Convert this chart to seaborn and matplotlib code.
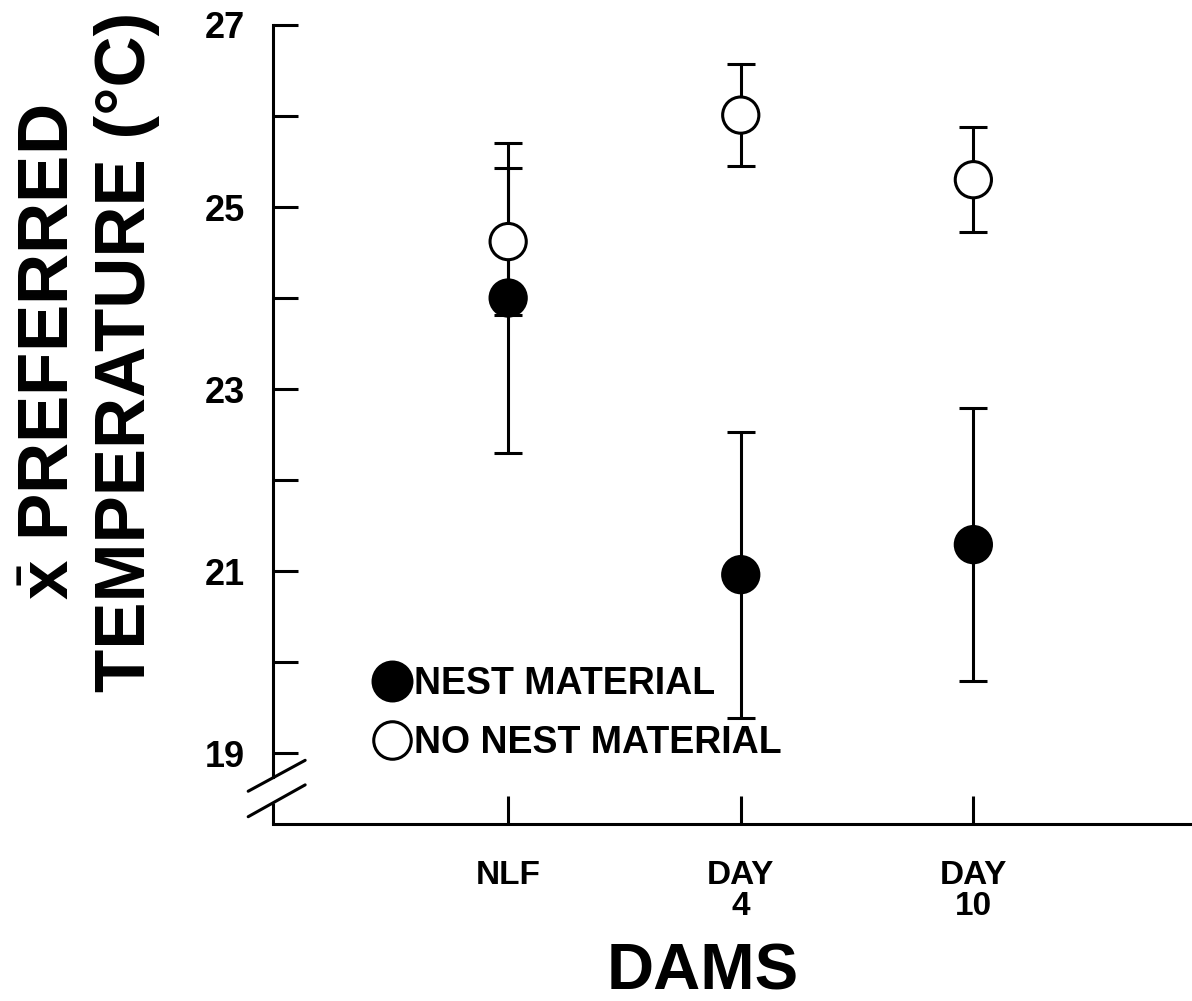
import matplotlib
matplotlib.use("Agg")
import matplotlib.pyplot as plt
import seaborn as sns
import pandas as pd
from matplotlib.lines import Line2D

# Mean preferred temperature (°C) and error half-widths per group of dams
groups = ["NLF", "DAY\n4", "DAY\n10"]
conditions = ["NEST MATERIAL", "NO NEST MATERIAL"]
nest_mean = [24.00, 20.96, 21.29]
nest_err = [1.70, 1.57, 1.50]
no_nest_mean = [24.62, 26.01, 25.30]
no_nest_err = [0.81, 0.56, 0.58]
y_major = [19, 21, 23, 25, 27]
y_minor = [20, 22, 24, 26]

sns.set_theme(style="ticks")
plt.rcParams["font.family"] = ["Liberation Sans", "DejaVu Sans"]
plt.rcParams["mathtext.fontset"] = "custom"
plt.rcParams["mathtext.bf"] = "Liberation Sans:bold"
plt.rcParams["mathtext.rm"] = "Liberation Sans"
plt.rcParams["mathtext.it"] = "Liberation Sans:italic"
for key in ("text.color", "axes.labelcolor", "xtick.color", "ytick.color",
            "xtick.labelcolor", "ytick.labelcolor", "axes.edgecolor"):
    plt.rcParams[key] = "black"

df = pd.DataFrame({
    "group": groups * 2,
    "condition": [conditions[0]] * len(groups) + [conditions[1]] * len(groups),
    "mean": nest_mean + no_nest_mean,
    "err": nest_err + no_nest_err,
})

W, H = 1192, 1001
fig = plt.figure(figsize=(W / 100, H / 100), dpi=100)
fig.patch.set_facecolor("white")
ax = fig.add_axes([273 / W, 1 - 824 / H, 1 - 273 / W, (824 - 25) / H])
ax.set_facecolor("white")

lw = 2.2
# error bars first so the markers sit on top of them
ax.errorbar(df["group"], df["mean"], yerr=df["err"], fmt="none",
            ecolor="black", elinewidth=lw, capsize=10, capthick=lw, zorder=2)

sns.scatterplot(data=df, x="group", y="mean", hue="condition",
                palette={conditions[0]: "black", conditions[1]: "white"},
                edgecolor="black", linewidth=lw, s=680, legend=False,
                zorder=3, ax=ax)

ax.set_xlim(-1.011, 2.94)
ax.set_ylim(18.22, 27)
ax.set_yticks(y_major)
ax.set_yticks(y_minor, minor=True)
ax.set_yticklabels([str(v) for v in y_major])
ax.set_xlabel("")
ax.set_ylabel("")

ax.tick_params(axis="y", which="both", direction="in", length=18, width=lw,
               pad=20, labelsize=26, colors="black")
ax.tick_params(axis="x", which="major", direction="in", length=20, width=lw,
               pad=26, labelsize=24, colors="black")
ax.tick_params(axis="x", which="minor", bottom=False)
for lab in ax.get_xticklabels() + ax.get_yticklabels():
    lab.set_fontweight("bold")
    lab.set_color("black")
for lab in ax.get_xticklabels():
    lab.set_linespacing(1.0)

for side in ("top", "right"):
    ax.spines[side].set_visible(False)
for side in ("left", "bottom"):
    ax.spines[side].set_linewidth(lw)
    ax.spines[side].set_color("black")
ax.spines["left"].set_bounds(18.74, 27)

# broken y axis: short stub above the x axis and two slashes
ytr = ax.get_yaxis_transform()
ax.plot([0, 0], [18.22, 18.45], transform=ytr, color="black", lw=lw,
        clip_on=False, solid_capstyle="butt")
ax.plot([-0.027, 0.035], [18.58, 18.92], transform=ytr, color="black",
        lw=lw, clip_on=False)
ax.plot([-0.027, 0.035], [18.30, 18.65], transform=ytr, color="black",
        lw=lw, clip_on=False)

handles = [
    Line2D([], [], marker="o", linestyle="none", markersize=28,
           markerfacecolor="black", markeredgecolor="black", markeredgewidth=lw),
    Line2D([], [], marker="o", linestyle="none", markersize=27,
           markerfacecolor="white", markeredgecolor="black", markeredgewidth=lw),
]
leg = ax.legend(handles, conditions, loc="center left",
                bbox_to_anchor=(0.109, 0.138), frameon=False, borderpad=0,
                borderaxespad=0, handlelength=1.0, handletextpad=0.1,
                labelspacing=0.6, prop={"size": 27, "weight": "bold"})
for t in leg.get_texts():
    t.set_color("black")

fig.text(703 / W, 1 - 990 / H, "DAMS", ha="center", va="baseline",
         fontsize=47, fontweight="bold", color="black")
fig.text(0.075, 0.648, "$\\bar{\\mathbf{x}}$ PREFERRED\nTEMPERATURE (°C)",
         rotation=90, ha="center", va="center", multialignment="center",
         fontsize=51, fontweight="bold", linespacing=1.2, color="black")

fig.savefig("out.png", dpi=100, facecolor="white")
